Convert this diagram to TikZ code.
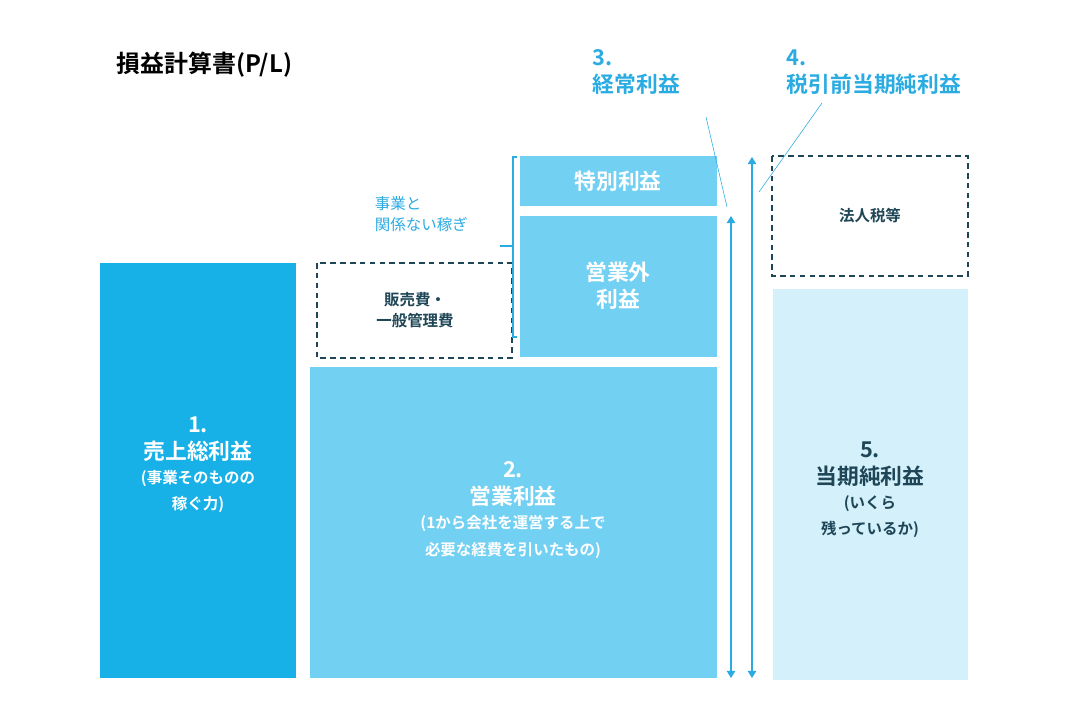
\documentclass[tikz,border=0pt]{standalone}
\usepackage{fontspec}
\newfontfamily\cjk{Noto Sans CJK JP}
\newfontfamily\cjkb{Noto Sans CJK JP Bold}
\newcommand\smallcjk{\cjkb\fontsize{11}{15}\selectfont}
\usetikzlibrary{arrows.meta}
\definecolor{deepblue}{HTML}{17B1E7}
\definecolor{midblue}{HTML}{72D0F2}
\definecolor{paleblue}{HTML}{D3F0FB}
\definecolor{linkblue}{HTML}{2AABE2}
\definecolor{inkdark}{HTML}{1E4656}
\tikzset{
  dashbox/.style={draw=inkdark,dashed,thick,dash pattern=on 4pt off 3pt},
  big/.style={font=\cjkb\fontsize{15.5}{19}\selectfont},
  small/.style={font=\smallcjk},
  lbl/.style={align=center,text=white},
  flow/.style={linkblue,thick,{Triangle[length=5pt,width=6pt]}-{Triangle[length=5pt,width=6pt]}}
}
\begin{document}
\begin{tikzpicture}[x=0.025cm,y=-0.025cm]
		\useasboundingbox (0,0) rectangle (1073,720);
		% title
			\node [anchor=west,font=\cjkb\fontsize{17}{20}\selectfont] (title) at (112,65) {損益計算書(P/L)};
		% blocks
			\fill [deepblue] (100,263) rectangle (296,678);
			\fill [midblue] (310,367) rectangle (717,678);
			\fill [midblue] (520,216) rectangle (717,357);
			\fill [midblue] (520,156) rectangle (717,206);
			\fill [paleblue] (773,289) rectangle (968,680);
			\draw [dashbox] (317,263) rectangle (512,358);
			\draw [dashbox] (772,156) rectangle (968,276);
		% texts
			\node [lbl,big] (gross) at (198,465) {1.\\売上総利益\\[-2pt]\smallcjk(事業そのものの\\\smallcjk 稼ぐ力)};
			\node [lbl,big] (oper) at (513,510) {2.\\営業利益\\[-2pt]\smallcjk(1から会社を運営する上で\\\smallcjk 必要な経費を引いたもの)};
			\node [lbl,big] (nonop) at (618,286) {営業外\\利益};
			\node [lbl,big] (special) at (618,181) {特別利益};
			\node [align=center,small,text=inkdark] (sga) at (415,310) {販売費・\\一般管理費};
			\node [align=center,small,text=inkdark] (tax) at (870,216) {法人税等};
			\node [align=center,big,text=inkdark] (net) at (870,490) {5.\\当期純利益\\[-2pt]\smallcjk(いくら\\\smallcjk 残っているか)};
			\node [anchor=west,align=left,text=linkblue,font=\cjk\fontsize{11}{15}\selectfont] (outside) at (370,214) {事業と\\関係ない稼ぎ};
			\node [anchor=west,align=left,text=linkblue,big] (ordinary) at (588,72) {3.\\経常利益};
			\node [anchor=west,align=left,text=linkblue,big] (pretax) at (782,72) {4.\\税引前当期純利益};
		% bracket
			\coordinate (btop) at (513,157);
			\coordinate (bbot) at (513,337);
			\coordinate (bmid) at (513,246);
			\coordinate (bout) at (500,246);
			\draw [linkblue,thick] ([xshift=3]btop) -- (btop) -- (bbot) -- ([xshift=3]bbot);
			\draw [linkblue,thick] (bmid) -- (bout);
		% arrows
			\coordinate (oa) at (731,216);
			\coordinate (ob) at (731,678);
			\coordinate (pa) at (752,157);
			\coordinate (pb) at (752,678);
			\draw [flow] (oa) -- (ob);
			\draw [flow] (pa) -- (pb);
		% pointers
			\coordinate (oend) at (727,207);
			\coordinate (pend) at (759,192);
			\draw [linkblue] (706,117) -- (oend);
			\draw [linkblue] (822,103) -- (pend);
	\end{tikzpicture}
\end{document}
